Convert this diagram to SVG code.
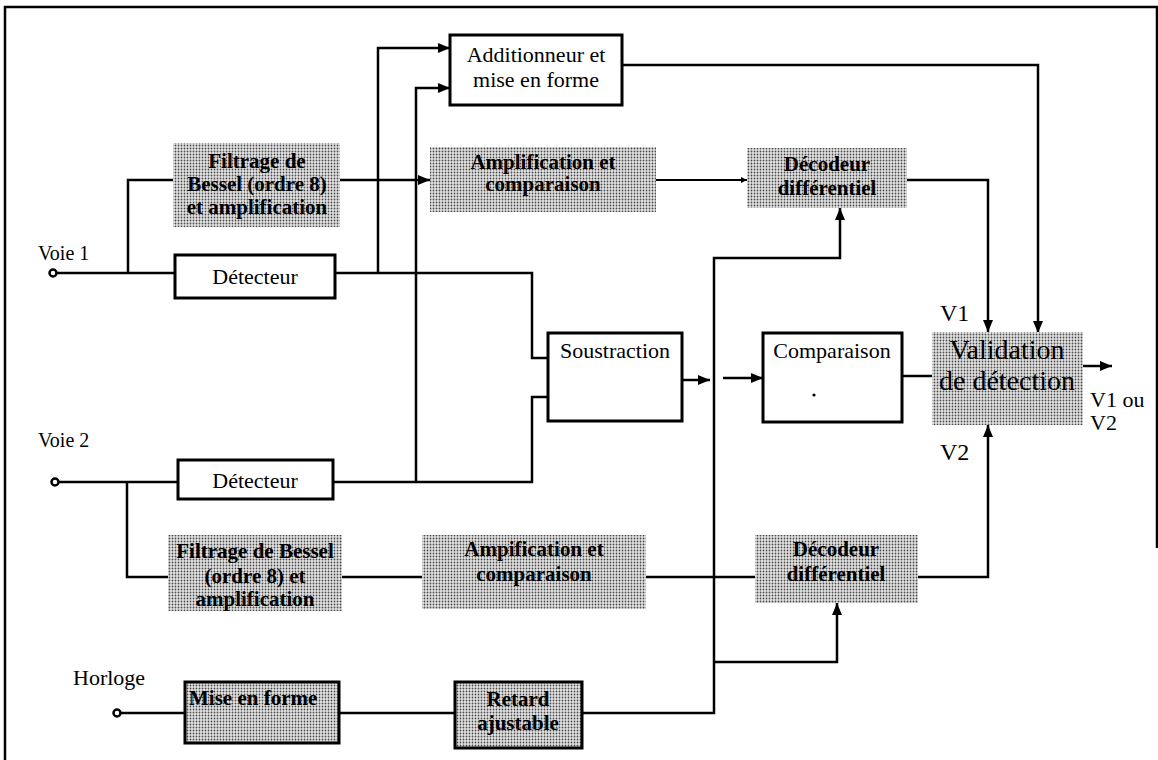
<svg xmlns="http://www.w3.org/2000/svg" width="1158" height="760" viewBox="0 0 1158 760">
  <style>
    .bg { fill: #ffffff; }
    .frame { fill: none; stroke: #000; stroke-width: 2.5; }
    .box { fill: #ffffff; stroke: #000; stroke-width: 3; }
    .shade { fill: url(#halftone); stroke: none; }
    .shadeb { fill: url(#halftone); stroke: #000; stroke-width: 3; }
    .wire { fill: none; stroke: #000; stroke-width: 2.5; }
    .thin { fill: none; stroke: #000; stroke-width: 2; }
    .arrow { marker-end: url(#head); }
    .port { fill: #fff; stroke: #000; stroke-width: 2.5; }
    text { font-family: "Liberation Serif", "Times New Roman", serif; fill: #000; }
    .t { font-size: 22px; }
    .c { text-anchor: middle; }
    .s { font-size: 21px; font-weight: bold; }
    .big { font-size: 28px; }
    .lbl { font-size: 20px; }
  </style>
  <defs>
    <pattern id="halftone" width="3" height="3" patternUnits="userSpaceOnUse">
      <rect width="3" height="3" fill="#e4e4e4"/>
      <circle cx="1.5" cy="1.5" r="0.9" fill="#4a4a4a"/>
    </pattern>
    <marker id="head" markerWidth="14" markerHeight="12" refX="12" refY="5" orient="auto" markerUnits="userSpaceOnUse">
      <path d="M0,0 L12,5 L0,10 Z" fill="#000"/>
    </marker>
    <marker id="small" markerWidth="8" markerHeight="8" refX="6" refY="3" orient="auto" markerUnits="userSpaceOnUse">
      <path d="M0,0 L6,3 L0,6 Z" fill="#000"/>
    </marker>
  </defs>

  <rect class="bg" width="1158" height="760"/>
  <path class="frame" d="M5,760 V7 H1157 V548"/>

  <!-- connectors -->
  <g id="connectors">
    <path class="wire" d="M57,273 H175"/>
    <path class="wire" d="M128,273 V180 H173"/>
    <path class="wire arrow" d="M340,180 H430"/>
    <path class="wire" d="M335,273 H532 V358 H548"/>
    <path class="wire arrow" d="M378,273 V48 H450"/>
    <path class="wire arrow" d="M416,482 V88 H450"/>
    <path class="wire" d="M59,482 H178"/>
    <path class="wire" d="M127,482 V577 H168"/>
    <path class="wire" d="M333,482 H532 V397 H548"/>
    <path class="wire" d="M342,577 H422"/>
    <path class="wire" d="M646,577 H755"/>
    <path class="thin" d="M656,180 H747" marker-end="url(#small)"/>
    <path class="wire arrow" d="M622,65 H1038 V333"/>
    <path class="wire arrow" d="M907,180 H988 V332"/>
    <path class="wire arrow" d="M918,577 H988 V425"/>
    <path class="wire arrow" d="M682,380 H710"/>
    <path class="wire arrow" d="M723,378 H763"/>
    <path class="wire" d="M902,376 H932"/>
    <path class="wire arrow" d="M1083,366 H1112"/>
    <path class="wire" d="M121,713 H185"/>
    <path class="wire" d="M339,713 H455"/>
    <path class="wire arrow" d="M582,713 H714 V258 H840 V208"/>
    <path class="wire arrow" d="M714,662 H837 V603"/>
  </g>

  <!-- inputs -->
  <g id="voie1">
    <text class="lbl" x="38" y="260">Voie 1</text>
    <circle class="port" cx="53" cy="273" r="3.5"/>
  </g>
  <g id="voie2">
    <text class="lbl" x="38" y="447">Voie 2</text>
    <circle class="port" cx="55" cy="482" r="3.5"/>
  </g>
  <g id="horloge">
    <text class="t" x="73" y="685">Horloge</text>
    <circle class="port" cx="117" cy="713" r="3.5"/>
  </g>

  <!-- channel 1 -->
  <g id="detecteur1">
    <rect class="box" x="175" y="255" width="160" height="43"/>
    <text class="t c" x="255" y="284">Détecteur</text>
  </g>
  <g id="filtrage1">
    <rect class="shade" x="173" y="143" width="167" height="84"/>
    <text class="s c" x="257" y="168">Filtrage de</text>
    <text class="s c" x="257" y="191">Bessel (ordre 8)</text>
    <text class="s c" x="257" y="214">et amplification</text>
  </g>
  <g id="additionneur">
    <rect class="box" x="450" y="35" width="172" height="70"/>
    <text class="t c" x="536" y="62">Additionneur et</text>
    <text class="t c" x="536" y="87">mise en forme</text>
  </g>
  <g id="amplification1">
    <rect class="shade" x="430" y="147" width="226" height="65"/>
    <text class="s c" x="543" y="169">Amplification et</text>
    <text class="s c" x="543" y="191">comparaison</text>
  </g>
  <g id="decodeur1">
    <rect class="shade" x="747" y="148" width="160" height="60"/>
    <text class="s c" x="827" y="171">Décodeur</text>
    <text class="s c" x="827" y="195">différentiel</text>
  </g>

  <!-- differential path -->
  <g id="soustraction">
    <rect class="box" x="548" y="333" width="134" height="88"/>
    <text class="t c" x="615" y="358">Soustraction</text>
  </g>
  <g id="comparaison">
    <rect class="box" x="763" y="333" width="139" height="89"/>
    <text class="t c" x="832" y="358">Comparaison</text>
    <circle cx="814" cy="395" r="1.6" fill="#000"/>
  </g>
  <g id="validation">
    <rect class="shade" x="932" y="332" width="151" height="93"/>
    <text class="big c" x="1007" y="359">Validation</text>
    <text class="big c" x="1007" y="390">de détection</text>
    <text x="940" y="321" style="font-size:24px">V1</text>
    <text x="940" y="460" style="font-size:24px">V2</text>
    <text class="t" x="1090" y="407">V1 ou</text>
    <text class="t" x="1090" y="430">V2</text>
  </g>

  <!-- channel 2 -->
  <g id="detecteur2">
    <rect class="box" x="178" y="460" width="155" height="39"/>
    <text class="t c" x="255" y="488">Détecteur</text>
  </g>
  <g id="filtrage2">
    <rect class="shade" x="168" y="535" width="174" height="76"/>
    <text class="s c" x="255" y="558">Filtrage de Bessel</text>
    <text class="s c" x="255" y="583">(ordre 8) et</text>
    <text class="s c" x="255" y="606">amplification</text>
  </g>
  <g id="amplification2">
    <rect class="shade" x="422" y="535" width="224" height="74"/>
    <text class="s c" x="534" y="556">Ampification et</text>
    <text class="s c" x="534" y="581">comparaison</text>
  </g>
  <g id="decodeur2">
    <rect class="shade" x="755" y="535" width="163" height="68"/>
    <text class="s c" x="836" y="556">Décodeur</text>
    <text class="s c" x="836" y="581">différentiel</text>
  </g>

  <!-- clock path -->
  <g id="mise-en-forme">
    <rect class="shadeb" x="185" y="682" width="154" height="61"/>
    <text class="s" x="189" y="705">Mise en forme</text>
  </g>
  <g id="retard">
    <rect class="shadeb" x="455" y="682" width="127" height="66"/>
    <text class="s c" x="518" y="706">Retard</text>
    <text class="s c" x="518" y="730">ajustable</text>
  </g>
</svg>
